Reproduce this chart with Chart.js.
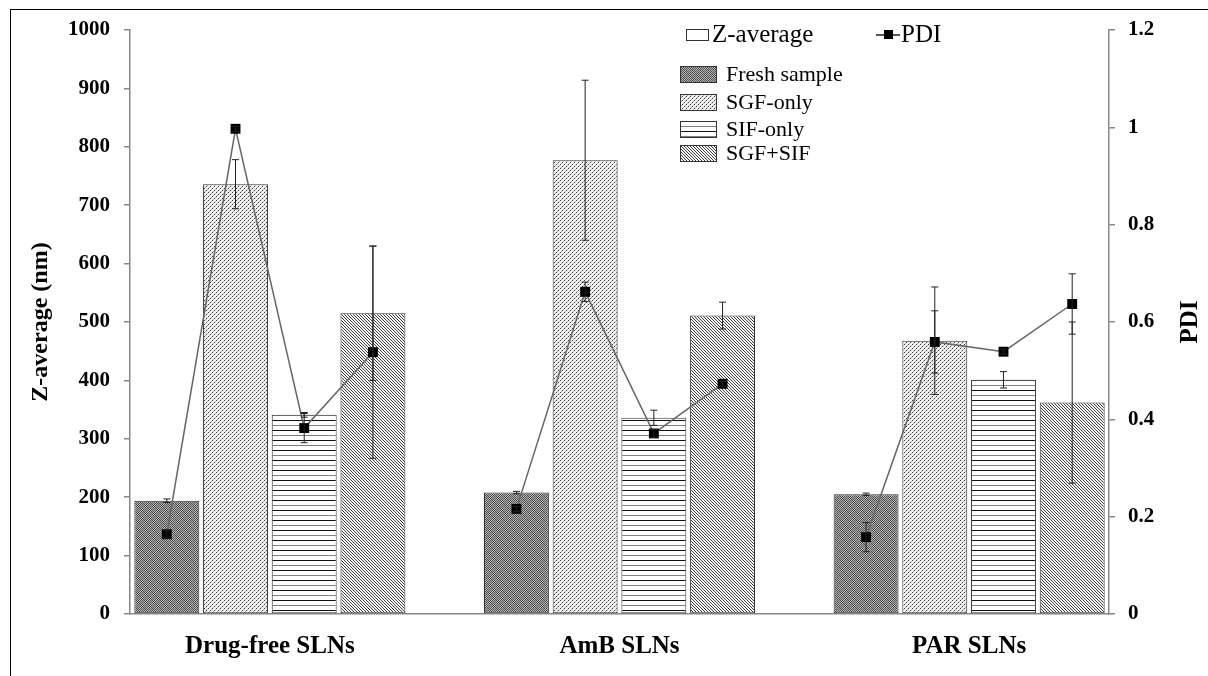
<!DOCTYPE html>
<html><head><meta charset="utf-8">
<script src="https://cdn.jsdelivr.net/npm/chart.js@4"></script>
<style>
html,body{margin:0;padding:0;background:#fff;}
#wrap{position:relative;width:1208px;height:676px;overflow:hidden;}
#c{position:absolute;left:0;top:0;}
#frame{position:absolute;left:10px;top:9px;width:1210px;height:680px;border-left:1px solid #000;border-top:1px solid #000;pointer-events:none;}
.lg{position:absolute;font-family:"Liberation Serif","Times New Roman",serif;color:#000;white-space:nowrap;}
</style>
</head><body>
<div id="wrap"><canvas id="c" width="1208" height="676" style="width:1208px;height:676px"></canvas><div id="frame"></div></div>
<script>
// ---- data ----
const categories = ["Drug-free SLNs", "AmB SLNs", "PAR SLNs"];
const seriesNames = ["Fresh sample", "SGF-only", "SIF-only", "SGF+SIF"];
const zFresh = [194, 208, 205];
const zSGF   = [736, 777, 468];
const zSIF   = [341, 336, 401];
const zMix   = [515, 511, 362];
const zFreshErr = [3, 2, 2];
const zSGFErr   = [42, 137, 92];
const zSIFErr   = [4, 13, 14];
const zMixErr   = [115, 23, 138];
const pdiFresh = [0.164, 0.216, 0.158];
const pdiSGF   = [0.997, 0.662, 0.559];
const pdiSIF   = [0.382, 0.371, 0.539];
const pdiMix   = [0.538, 0.473, 0.637];
const pdiFreshErr = [0.008, 0.005, 0.03];
const pdiSGFErr   = [0.005, 0.02, 0.064];
const pdiSIFErr   = [0.03, 0.008, 0.005];
const pdiMixErr   = [0.218, 0.005, 0.062];
const zTicks = [0, 100, 200, 300, 400, 500, 600, 700, 800, 900, 1000];
const pdiTicks = [0, 0.2, 0.4, 0.6, 0.8, 1, 1.2];
const yTitle = 'Z-average (nm)';
const y2Title = 'PDI';
const barKeyLabel = 'Z-average';

const zValues = [zFresh, zSGF, zSIF, zMix];
const zErrors = [zFreshErr, zSGFErr, zSIFErr, zMixErr];
const pdiValues = [pdiFresh, pdiSGF, pdiSIF, pdiMix];
const pdiErrors = [pdiFreshErr, pdiSGFErr, pdiSIFErr, pdiMixErr];

const FONT = '"Liberation Serif","Times New Roman",serif';

// ---- patterns ----
function makeTile(kind) {
  const c = document.createElement('canvas');
  let w = 8, h = 8;
  if (kind === 2) { w = 4; h = 10; }
  if (kind === 3) { w = 6; h = 6; }
  if (kind === 1) { w = 4; h = 4; }
  c.width = w; c.height = h;
  const g = c.getContext('2d');
  for (let y = 0; y < h; y++) for (let x = 0; x < w; x++) {
    let col;
    if (kind === 0) {
      const blob = (((x >> 2) + (y >> 2)) % 2 === 0);
      if ((x + y) % 2 === 0) col = blob ? '#3e3e3e' : '#666';
      else col = blob ? '#c4c4c4' : '#a0a0a0';
    } else if (kind === 1) {
      if ((x === 0 && y === 0) || (x === 2 && y === 2)) col = '#3a3a3a';
      else if ((x === 1 && y === 3) || (x === 3 && y === 1)) col = '#b0b0b0';
      else col = '#f0f0f0';
    } else if (kind === 2) {
      if (y === 0) col = '#111';
      else if (y === 5) col = '#808080';
      else col = '#ffffff';
    } else {
      col = ((x - y + 6) % 3 === 0) ? '#3a3a3a' : '#fafafa';
    }
    g.fillStyle = col; g.fillRect(x, y, 1, 1);
  }
  return c;
}
const tmpCtx = document.createElement('canvas').getContext('2d');
const tiles = [0, 1, 2, 3].map(makeTile);
const patterns = tiles.map(t => tmpCtx.createPattern(t, 'repeat'));

// ---- layout constants ----
const catPct = 0.786, barPct = 0.945;

const barDatasets = seriesNames.map((name, i) => ({
  type: 'bar',
  label: name,
  data: categories.map((c, g) => ({ x: g, y: zValues[i][g] })),
  errors: zErrors[i],
  backgroundColor: patterns[i],
  borderColor: '#333',
  borderWidth: 1,
  borderSkipped: false,
  categoryPercentage: catPct,
  barPercentage: barPct,
  yAxisID: 'y',
  order: 2
}));

const linePts = [];
categories.forEach((c, g) => {
  pdiValues.forEach((arr, i) => linePts.push({ x: g + (i - 1.5) * catPct / 4, y: arr[g], e: pdiErrors[i][g] }));
  if (g < categories.length - 1) linePts.push({ x: g + 0.5, y: null, e: 0 });
});
const lineDataset = {
  type: 'line',
  label: 'PDI',
  data: linePts,
  yAxisID: 'y2',
  borderColor: '#666',
  borderWidth: 1.5,
  pointStyle: 'rect',
  pointRadius: 7,
  pointBackgroundColor: '#000',
  pointBorderColor: '#000',
  pointBorderWidth: 0,
  spanGaps: false,
  tension: 0,
  order: 0
};

function drawErr(ctx, x, yTop, yBot) {
  ctx.beginPath();
  ctx.moveTo(x, yTop); ctx.lineTo(x, yBot);
  ctx.moveTo(x - 3.5, yTop); ctx.lineTo(x + 3.5, yTop);
  ctx.moveTo(x - 3.5, yBot); ctx.lineTo(x + 3.5, yBot);
  ctx.stroke();
}
const errorPlugin = {
  id: 'errbars',
  afterDatasetsDraw(chart) {
    const ctx = chart.ctx, ys = chart.scales.y, y2 = chart.scales.y2;
    ctx.save();
    ctx.strokeStyle = '#222'; ctx.lineWidth = 1;
    chart.data.datasets.forEach((ds, di) => {
      const meta = chart.getDatasetMeta(di);
      meta.data.forEach((el, k) => {
        const p = ds.data[k];
        if (p.y == null) return;
        if (ds.type === 'bar') {
          const e = ds.errors[k];
          drawErr(ctx, el.x, ys.getPixelForValue(p.y + e), ys.getPixelForValue(p.y - e));
        } else {
          drawErr(ctx, el.x, y2.getPixelForValue(p.y + p.e), y2.getPixelForValue(p.y - p.e));
        }
      });
    });
    ctx.restore();
  }
};

new Chart(document.getElementById('c'), {
  type: 'bar',
  data: { datasets: [...barDatasets, lineDataset] },
  options: {
    responsive: false,
    animation: false,
    layout: { padding: { top: 30, left: 0, right: 0, bottom: 0 } },
    plugins: { legend: { display: false }, tooltip: { enabled: false } },
    scales: {
      x: {
        type: 'linear', min: -0.4, max: 2.4, offset: false,
        afterBuildTicks(s) { s.ticks = categories.map((c, i) => ({ value: i })); },
        ticks: {
          autoSkip: false, maxRotation: 0, padding: 18, color: '#000',
          font: { family: FONT, size: 25, weight: 'bold' },
          callback: v => categories[v] !== undefined ? categories[v] : ''
        },
        grid: { display: false, drawTicks: false, offset: false },
        border: { display: true, color: '#888', width: 1.5 },
        afterFit(s) { s.height = 62; }
      },
      y: {
        position: 'left', min: 0, max: 1000,
        afterBuildTicks(s) { s.ticks = zTicks.map(v => ({ value: v })); },
        ticks: { color: '#000', padding: 14, font: { family: FONT, size: 21, weight: 'bold' }, callback: v => String(v) },
        grid: { display: true, drawOnChartArea: false, drawTicks: true, tickLength: 6, color: '#888', lineWidth: 1.5 },
        border: { display: true, color: '#888', width: 1.5 },
        title: { display: true, text: yTitle, color: '#000', font: { family: FONT, size: 24, weight: 'bold' }, padding: { top: 26, bottom: 0 } },
        afterFit(s) { s.width = 130; }
      },
      y2: {
        position: 'right', min: 0, max: 1.2,
        afterBuildTicks(s) { s.ticks = pdiTicks.map(v => ({ value: v })); },
        ticks: { color: '#000', padding: 13, font: { family: FONT, size: 21, weight: 'bold' }, callback: v => String(+(+v).toFixed(1)) },
        grid: { display: true, drawOnChartArea: false, drawTicks: true, tickLength: 6, color: '#888', lineWidth: 1.5 },
        border: { display: true, color: '#888', width: 1.5 },
        title: { display: false },
        afterFit(s) { s.width = 99; }
      }
    }
  },
  plugins: [errorPlugin]
});

// ---- HTML overlays ----
const wrap = document.getElementById('wrap');
function addEl(tag, css, text) {
  const e = document.createElement(tag);
  Object.assign(e.style, css);
  if (text) e.textContent = text;
  wrap.appendChild(e);
  return e;
}
// right axis title, reading bottom-to-top
const rt = addEl('div', { left: '1188px', top: '322px', fontSize: '25px', fontWeight: 'bold', lineHeight: '25px', transform: 'translate(-50%,-50%) rotate(-90deg)' }, y2Title);
rt.className = 'lg';

// Z-average (bars) key
addEl('div', { position: 'absolute', left: '686px', top: '29px', width: '23px', height: '12px', boxSizing: 'border-box', border: '1px solid #333', background: '#fff' });
const zl = addEl('div', { left: '712px', top: '21px', fontSize: '25px', lineHeight: '25px' }, barKeyLabel); zl.className = 'lg';
// PDI key
addEl('div', { position: 'absolute', left: '876px', top: '34px', width: '24px', height: '1.5px', background: '#555' });
addEl('div', { position: 'absolute', left: '884px', top: '30px', width: '9px', height: '9px', background: '#000' });
const pl = addEl('div', { left: '901px', top: '21px', fontSize: '25px', lineHeight: '25px' }, lineDataset.label); pl.className = 'lg';
// pattern keys
const keyTops = [66, 94, 121, 145];
seriesNames.forEach((name, i) => {
  const sw = document.createElement('canvas');
  sw.width = 37; sw.height = 17;
  Object.assign(sw.style, { position: 'absolute', left: '680px', top: keyTops[i] + 'px' });
  const g = sw.getContext('2d');
  g.fillStyle = g.createPattern(tiles[i], 'repeat');
  g.fillRect(0, 0, 37, 17);
  g.strokeStyle = '#333'; g.lineWidth = 1; g.strokeRect(0.5, 0.5, 36, 16);
  wrap.appendChild(sw);
  const t = addEl('div', { left: '726px', top: (keyTops[i] - 3) + 'px', fontSize: '22px', lineHeight: '22px' }, name);
  t.className = 'lg';
});
</script>
</body></html>
